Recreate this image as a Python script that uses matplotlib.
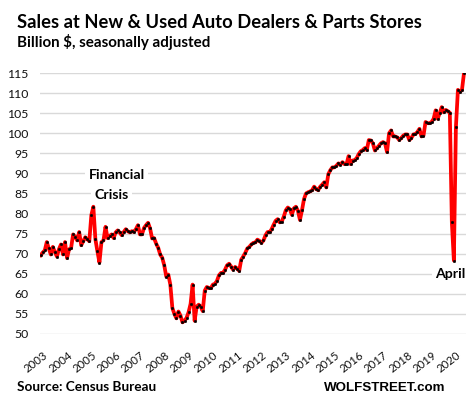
import matplotlib
matplotlib.use("Agg")
import matplotlib.pyplot as plt
import numpy as np

plt.rcParams['font.family'] = ['Lato', 'DejaVu Sans']

# monthly sales, billion $, split by stretch
sales_boom = [69.6, 70.3, 70.8, 72.9, 71.3, 69.8, 71.7, 70.4, 69.3, 71.1,
              72.3, 69.8, 72.9, 68.9, 71.1, 71.4, 74.8, 74.2, 73.3, 75.4,
              72.1, 73.1, 74.1, 73.6, 73.1, 79.6, 81.7, 73.6, 70.6, 67.8,
              72.9, 73.3, 76.7, 73.9, 74.4, 74.8, 73.9, 75.3, 75.8, 75.3,
              74.6, 75.4, 76.1, 75.6, 75.3, 75.6, 75.4, 76.1, 77.1, 74.8,
              74.8, 76.4, 77.1, 77.7, 76.3, 73.8, 73.9, 72.5]
sales_crash = [71.5, 69.8, 69.0, 67.1, 64.3, 64.8, 62.3,
               56.5, 55.0, 53.9, 55.6, 54.6, 52.9, 53.3, 54.0, 55.4, 57.5,
               62.3, 53.3, 56.8, 57.3, 56.8, 55.7]
sales_recovery = [60.8, 61.7, 61.5, 61.4, 62.3, 62.5, 63.2, 64.6, 65.2, 65.2,
                  66.0, 67.1, 67.5, 66.8, 66.0, 66.7, 66.3, 65.7, 68.5, 69.3,
                  70.2, 71.3, 71.7, 72.3, 72.7, 72.8, 73.5, 73.2, 72.7, 73.3,
                  74.6, 75.4]
sales_late = [75.3, 76.1, 77.2, 78.2, 78.6, 77.8, 78.0, 79.2, 80.8, 81.5,
              81.1, 79.7, 81.3, 81.7, 80.7, 78.4, 80.8, 83.6, 85.0, 85.3,
              85.5, 85.8, 86.7, 86.1, 85.8, 86.7, 87.2, 87.8, 86.5, 89.8,
              90.8, 91.5, 91.5, 91.9, 92.5, 92.2, 92.8, 92.3, 92.3,
              94.3, 92.3, 93.2, 93.3, 93.8, 94.8, 95.5, 95.8, 96.3, 95.8,
              98.3, 98.2, 97.5, 95.7, 96.3, 96.9, 97.5, 97.8, 97.5, 95.3,
              100.0, 100.7, 99.2, 99.2, 99.0, 98.3, 98.8, 99.4, 99.7, 99.7,
              98.3, 98.8, 99.7, 99.8, 100.3, 101.1, 99.2, 99.4, 102.8, 102.5,
              102.5, 102.8, 103.6, 105.7, 103.6, 105.0, 106.5, 105.2, 105.8, 105.5,
              105.1, 77.8, 68.3, 101.5, 110.8, 110.3, 110.8, 115.0]

year_labels = ['2003', '2004', '2005', '2006', '2007', '2008', '2009', '2010',
               '2011', '2012', '2013', '2014', '2015', '2016', '2017', '2018',
               '2019', '2020']
y_ticks = [50, 55, 60, 65, 70, 75, 80, 85, 90, 95, 100, 105, 110, 115]

sales = sales_boom + sales_crash + sales_recovery + sales_late
x = np.arange(len(sales))
april = len(sales) - 5   # the April 2020 plunge

W, H = 474, 399
fig = plt.figure(figsize=(W / 100, H / 100), dpi=100)
ax = fig.add_axes([40 / W, 65 / H, 426 / W, 261 / H])

ax.plot(x, sales, color='#ff0000', lw=2.7, solid_joinstyle='round',
        marker='o', ms=1.7, mfc='black', mec='black', mew=0.4, zorder=3)

step = 423.3 / (len(sales) - 1)
ax.set_xlim(-0.7 / step, len(sales) - 1 + 2.0 / step)
ax.set_ylim(50, 115)

ax.set_yticks(y_ticks)
ax.yaxis.grid(True, color='#d9d9d9', lw=1.0)
ax.set_axisbelow(True)
for s in ax.spines.values():
    s.set_visible(False)

ax.set_xticks([1.1 + 12 * k for k in range(len(year_labels))])
ax.set_xticklabels(year_labels, rotation=38, ha='right', va='top',
                   rotation_mode='anchor', fontsize=8.2, color='#111111')
ax.tick_params(axis='x', length=0, pad=11)
ax.tick_params(axis='y', length=0, pad=8, labelsize=8.8, labelcolor='#111111')

box = dict(facecolor='white', edgecolor='none', pad=2.5)
ax.text(37.4, 88.6, 'Financial', ha='center', va='baseline', fontsize=10.2,
        fontweight='bold', bbox=box, zorder=4)
ax.text(34.9, 83.7, 'Crisis', ha='center', va='baseline', fontsize=10.2,
        fontweight='bold', bbox=box, zorder=4)
ax.text(april - 2.6, 64.0, 'April', ha='center', va='baseline', fontsize=10.2,
        fontweight='bold', bbox=box, zorder=4)

fig.text(17 / W, 1 - 28.5 / H, 'Sales at New & Used Auto Dealers & Parts Stores',
         ha='left', va='baseline', fontsize=13.2, fontweight='bold')
fig.text(17 / W, 1 - 46.5 / H, 'Billion $, seasonally adjusted',
         ha='left', va='baseline', fontsize=10.9, fontweight='bold')
fig.text(17 / W, 1 - 391 / H, 'Source: Census Bureau',
         ha='left', va='baseline', fontsize=9.8, fontweight='bold')
fig.text(445 / W, 1 - 391 / H, 'WOLFSTREET.com', ha='right', va='baseline',
         fontsize=9.6, fontweight='bold', family=['Liberation Sans', 'DejaVu Sans'])

fig.savefig('out.png', dpi=100)
